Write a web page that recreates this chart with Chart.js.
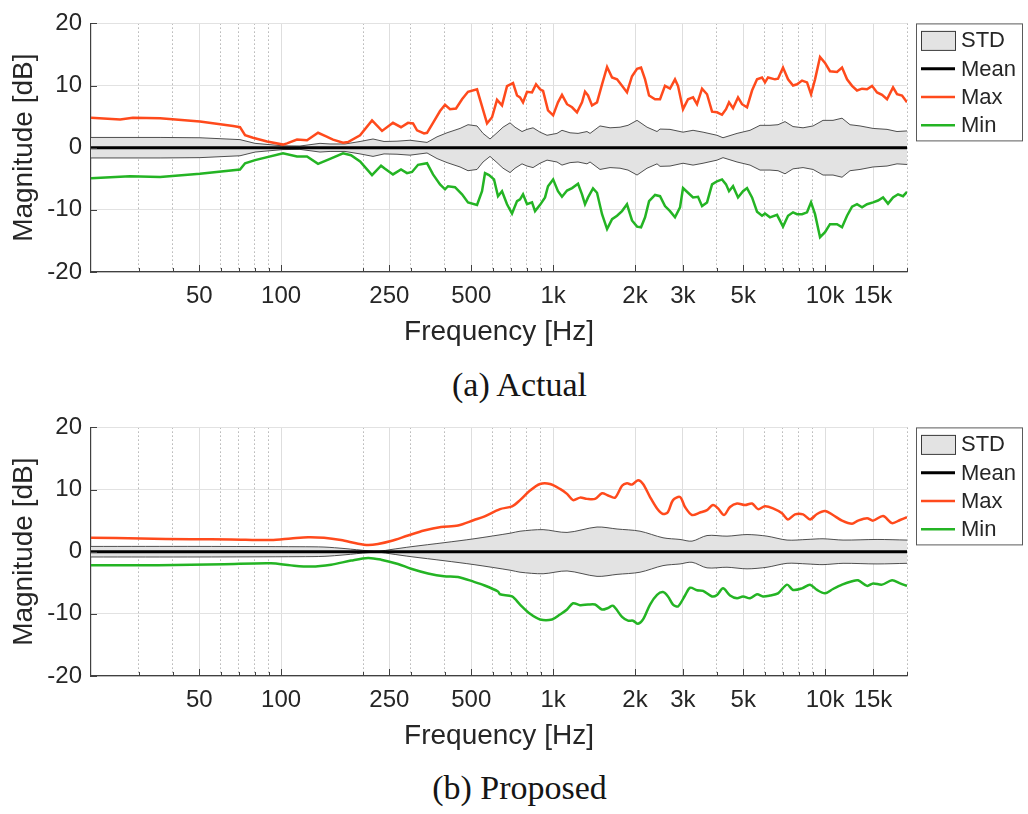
<!DOCTYPE html>
<html>
<head>
<meta charset="utf-8">
<script src="https://cdn.jsdelivr.net/npm/chart.js@4.4.1/dist/chart.umd.min.js"></script>
<style>
  body { margin: 0; background: #fff; width: 1028px; height: 814px; position: relative; overflow: hidden; }
  canvas { position: absolute; left: 0; }
  .caption { position: absolute; left: 0; width: 1039px; text-align: center; line-height: 40px;
             font-size: 34px; font-family: "Liberation Serif", "Times New Roman", serif; color: #151515; }
</style>
</head>
<body>
<canvas id="actual" width="1028" height="360" style="top:0"></canvas>
<div class="caption" style="top:365px">(a) Actual</div>
<canvas id="proposed" width="1028" height="360" style="top:404px"></canvas>
<div class="caption" style="top:768px">(b) Proposed</div>
<script>
// frequency axis ticks (Hz); only the named ones get a label
const freqTicks = [30, 40, 50, 60, 70, 80, 90, 100, 200, 250, 300, 400, 500, 600, 700, 800, 900,
  1000, 2000, 3000, 4000, 5000, 6000, 7000, 8000, 9000, 10000, 15000, 20000];
const tickNames = { 50: '50', 100: '100', 250: '250', 500: '500', 1000: '1k', 2000: '2k',
  3000: '3k', 5000: '5k', 10000: '10k', 15000: '15k' };
const dbTicks = [-20, -10, 0, 10, 20];

// (a) measured responses: [frequency Hz, dB]
const actualMax = [[20, 4.8], [25.6, 4.55], [28.5, 4.8], [35.9, 4.75], [50.3, 4.2], [66.6, 3.5], [70.6, 3.3],
  [73.7, 2.0], [78.8, 1.6], [88.8, 1.0], [101.6, 0.5], [105.1, 0.7], [114.4, 1.3], [124.5, 1.2], [136.7, 2.4],
  [145, 1.9], [155.2, 1.3], [168.9, 0.8], [176.2, 0.9], [195.1, 2.0], [215.9, 4.4], [235, 2.7], [257.8, 4.0],
  [275.9, 3.3], [292.7, 4.0], [305.5, 3.9], [316, 2.8], [335.3, 2.3], [343.9, 2.4], [361.8, 4.0], [383.9, 5.9],
  [400.5, 6.9], [417.8, 6.2], [439.5, 6.3], [462.5, 7.8], [486.5, 9.0], [525.1, 9.4], [571.5, 3.9], [596.2, 4.9],
  [621.9, 7.7], [648.8, 6.8], [676.9, 9.9], [712.3, 10.4], [736.8, 8.4], [755.7, 8.1], [775.1, 7.3], [801.8, 9.0],
  [836.5, 8.9], [865.4, 10.2], [895.3, 9.4], [918.4, 9.15], [957.7, 6.0], [1000, 5.2], [1042, 7.3], [1078, 8.5],
  [1125, 7.0], [1174, 6.5], [1224, 5.7], [1277, 7.3], [1310, 9.0], [1344, 8.4], [1390, 6.8], [1450, 7.3],
  [1513, 10.2], [1579, 13.0], [1647, 11.3], [1718, 11.0], [1792, 9.95], [1869, 8.9], [1950, 11.5], [2035, 12.7],
  [2105, 12.9], [2178, 11.0], [2253, 8.4], [2370, 7.8], [2472, 7.8], [2578, 9.95], [2690, 9.5], [2806, 11.0],
  [2878, 9.95], [3003, 6.2], [3133, 7.8], [3269, 8.1], [3381, 7.0], [3528, 9.5], [3680, 8.6], [3840, 5.8],
  [4005, 5.7], [4178, 5.3], [4322, 6.2], [4433, 7.3], [4586, 6.35], [4784, 8.1], [4949, 7.0], [5163, 6.5],
  [5387, 9.2], [5620, 11.0], [5862, 11.3], [6012, 10.5], [6168, 11.3], [6543, 11.0], [6712, 11.1], [7002, 12.9],
  [7306, 11.0], [7621, 10.0], [7885, 10.2], [8225, 10.8], [8580, 10.5], [8876, 8.6], [9182, 11.0], [9579, 14.6],
  [9991, 13.65], [10420, 12.3], [11060, 12.2], [11540, 12.9], [12040, 11.0], [12560, 9.95], [13100, 9.2],
  [13670, 9.5], [14260, 9.4], [14880, 9.95], [15520, 8.9], [16190, 8.5], [16890, 7.8], [17770, 9.7],
  [18380, 8.6], [19180, 8.4], [20000, 7.3]];
const actualMin = [[20, -4.9], [27.8, -4.6], [35.9, -4.7], [50.3, -4.2], [70.6, -3.5], [73.7, -2.5], [80.2, -2.0],
  [101.6, -0.9], [114.4, -1.4], [124.5, -1.4], [136.7, -2.6], [151.3, -1.8], [168.9, -0.9], [180.7, -1.2],
  [195.1, -2.2], [215.9, -4.4], [233, -2.9], [241, -3.4], [257.8, -4.3], [275.9, -3.5], [290.3, -4.1],
  [302.9, -3.9], [318.7, -2.75], [343.9, -2.5], [361.8, -4.3], [383.9, -5.9], [400.5, -6.7], [410.8, -6.2],
  [435.8, -6.35], [462.5, -7.5], [486.5, -8.8], [525.1, -9.2], [547.8, -7.0], [561.8, -4.1], [581.2, -4.4],
  [606.3, -5.1], [627.2, -7.8], [648.8, -7.0], [676.9, -9.1], [706.2, -10.6], [736.8, -8.6], [755.7, -8.3],
  [775.1, -7.5], [801.8, -9.1], [836.5, -8.8], [858.2, -10.2], [895.3, -9.2], [933.8, -8.0], [957.7, -6.2],
  [1000, -5.1], [1042, -7.0], [1078, -7.9], [1125, -6.9], [1174, -6.5], [1235, -5.8], [1277, -7.5], [1310, -9.1],
  [1344, -8.0], [1402, -6.55], [1450, -7.25], [1513, -10.7], [1579, -13.1], [1647, -11.5], [1718, -10.95],
  [1792, -10.2], [1869, -9.1], [1950, -11.7], [2035, -12.7], [2105, -12.8], [2178, -11.2], [2253, -8.6],
  [2370, -7.6], [2472, -7.8], [2578, -9.4], [2690, -10.2], [2806, -11.2], [2928, -9.6], [3003, -6.5],
  [3133, -7.25], [3269, -8.0], [3410, -7.9], [3528, -9.4], [3680, -8.8], [3840, -5.9], [4005, -5.4], [4178, -5.1],
  [4322, -5.9], [4433, -7.0], [4586, -6.2], [4784, -8.0], [4991, -7.0], [5163, -6.5], [5387, -8.0], [5620, -10.3],
  [5862, -10.95], [6012, -10.6], [6270, -11.2], [6655, -10.8], [7002, -12.7], [7306, -10.95], [7621, -10.4],
  [7885, -10.7], [8225, -10.7], [8580, -10.4], [8876, -8.8], [9182, -10.7], [9579, -14.4], [9991, -13.6],
  [10420, -12.3], [11060, -12.3], [11540, -12.8], [12040, -10.95], [12560, -9.5], [13100, -9.1], [13670, -9.6],
  [14260, -9.1], [15010, -8.8], [15650, -8.5], [16330, -8.0], [17030, -9.0], [17770, -8.0], [18540, -7.5],
  [19340, -7.8], [20000, -7.1]];
const actualStd = [[20, 1.65], [35.9, 1.65], [50.3, 1.6], [70.6, 1.3], [80.2, 0.7], [101.6, 0.3], [117.3, 0.27],
  [139, 0.7], [151.3, 0.6], [171.8, 0.6], [195.1, 1.0], [217.7, 1.4], [239, 1.0], [266.7, 1.05], [297.8, 1.2],
  [343.9, 0.85], [374.3, 1.75], [407.3, 2.4], [454.7, 3.1], [486.5, 3.7], [525.1, 3.5], [552.5, 2.3], [586.1, 1.4],
  [621.9, 2.4], [654.4, 3.3], [694.3, 4.0], [724.4, 3.3], [768.7, 2.6], [801.8, 2.95], [843.7, 3.2], [895.3, 2.5],
  [949.8, 2.0], [1033, 2.3], [1078, 2.8], [1154, 2.4], [1235, 2.3], [1332, 2.6], [1367, 2.3], [1487, 3.5],
  [1619, 3.2], [1762, 3.3], [1885, 3.6], [2035, 4.4], [2215, 3.3], [2410, 2.6], [2472, 3.0], [2690, 2.95],
  [3003, 2.5], [3269, 2.8], [3558, 2.5], [4005, 2.0], [4213, 1.6], [4744, 2.3], [5296, 2.8], [5764, 3.6],
  [6270, 3.6], [6712, 3.7], [7122, 4.2], [7621, 3.4], [8295, 3.2], [9027, 3.5], [9824, 4.4], [10690, 4.4],
  [11540, 4.75], [12350, 3.7], [13440, 3.5], [15010, 3.1], [16890, 2.95], [18380, 2.6], [20000, 2.7]];
const actualMean = [[20, 0], [20000, 0]];

// (b) proposed responses: [frequency Hz, dB]
const proposedMax = [[20, 2.24], [30.5, 2.13], [46.6, 2.0], [65.4, 1.97], [91.8, 1.87], [108.7, 2.13],
  [125.6, 2.34], [143.8, 2.24], [166, 1.87], [191.8, 1.29], [208.7, 1.08], [227.1, 1.24], [253.5, 1.71],
  [292.7, 2.6], [335.3, 3.4], [387.2, 3.97], [447.1, 4.23], [512, 5.1], [557.2, 5.65], [638, 6.85], [706.2, 7.3],
  [755.7, 8.3], [822.5, 9.85], [895.3, 10.9], [974.1, 10.9], [1060, 10.1], [1125, 9.3], [1184, 8.3], [1256, 8.7],
  [1332, 8.5], [1426, 8.5], [1513, 9.4], [1592, 9.05], [1689, 8.7], [1792, 10.6], [1869, 11.0], [1950, 10.8],
  [2052, 11.5], [2141, 10.9], [2272, 8.8], [2410, 6.96], [2535, 6.07], [2644, 6.4], [2759, 8.3], [2928, 8.8],
  [3054, 7.2], [3241, 5.9], [3469, 6.3], [3680, 6.7], [3870, 7.5], [4039, 6.96], [4249, 5.9], [4471, 7.2],
  [4744, 7.75], [5076, 7.5], [5387, 7.75], [5667, 6.85], [6012, 7.3], [6432, 6.96], [6943, 6.17], [7306, 5.2],
  [7751, 6.0], [8295, 6.0], [8801, 5.2], [9338, 6.07], [9991, 6.55], [10690, 5.9], [11540, 5.0], [12560, 4.5],
  [13210, 5.0], [14260, 5.4], [15010, 5.0], [16330, 5.75], [17620, 4.6], [18860, 5.1], [20000, 5.55]];
const proposedMin = [[20, -2.2], [35.3, -2.17], [61.7, -2.0], [91.8, -1.86], [108.7, -2.2], [128.8, -2.4],
  [152.6, -2.1], [180.7, -1.43], [208.7, -1.0], [233, -1.28], [269, -1.97], [300.4, -2.75], [346.8, -3.5],
  [397.1, -3.96], [447.1, -4.06], [512, -4.85], [557.2, -5.4], [627.2, -6.4], [638, -6.85], [706.2, -7.2],
  [755.7, -8.5], [822.5, -10.0], [895.3, -10.9], [990.7, -10.9], [1060, -10.1], [1125, -9.3], [1184, -8.3],
  [1256, -8.6], [1344, -8.5], [1426, -8.5], [1513, -9.3], [1592, -9.05], [1661, -8.7], [1792, -10.5],
  [1885, -11.1], [1966, -11.1], [2052, -11.6], [2141, -10.9], [2272, -8.5], [2410, -6.95], [2535, -6.5],
  [2644, -7.2], [2759, -8.5], [2878, -8.8], [3054, -7.05], [3187, -5.8], [3381, -6.2], [3558, -6.3], [3840, -7.2],
  [4005, -6.95], [4213, -5.9], [4471, -7.05], [4744, -7.5], [4991, -7.2], [5296, -7.5], [5620, -6.85],
  [5911, -7.2], [6270, -7.05], [6712, -6.7], [7244, -5.3], [7621, -6.15], [8225, -5.9], [8801, -5.3],
  [9338, -6.15], [9991, -6.7], [10690, -6.0], [11540, -5.3], [12560, -4.75], [13210, -4.6], [14260, -5.5],
  [15010, -5.1], [16190, -5.3], [17620, -4.6], [18860, -5.1], [20000, -5.5]];
const proposedStd = [[20, 0.85], [50.3, 0.85], [117.3, 0.8], [143.8, 0.75], [171.8, 0.5], [208.7, 0.15],
  [231, 0.1], [253.5, 0.35], [300.4, 0.8], [397.1, 1.45], [512, 2.08], [700.2, 3.0], [755.7, 3.3], [918.4, 3.55],
  [1125, 3.1], [1450, 3.97], [1718, 3.65], [2087, 3.3], [2535, 2.24], [2928, 1.97], [3241, 1.7], [3680, 2.6],
  [4358, 2.5], [5163, 2.76], [6115, 2.5], [7244, 1.87], [8580, 1.97], [9824, 2.08], [11640, 1.87], [15520, 1.97],
  [20000, 1.87]];
const proposedMean = [[20, 0], [20000, 0]];

const AXIS = '#404040';
const TEXT = '#262626';
Chart.defaults.font.family = '"Liberation Sans", Arial, Helvetica, sans-serif';
Chart.defaults.color = TEXT;

const isNamed = (v) => tickNames[v] !== undefined;

// MATLAB-style tick marks pointing into the plot
const innerTicks = {
  id: 'innerTicks',
  afterDraw(chart) {
    const { ctx, chartArea, scales } = chart;
    ctx.save();
    ctx.strokeStyle = AXIS;
    ctx.lineWidth = 1;
    ctx.beginPath();
    scales.x.ticks.forEach((t) => {
      const px = Math.round(scales.x.getPixelForValue(t.value)) + 0.5;
      const len = isNamed(t.value) ? 7 : 4;
      ctx.moveTo(px, chartArea.bottom);
      ctx.lineTo(px, chartArea.bottom - len);
    });
    scales.y.ticks.forEach((t) => {
      const py = Math.round(scales.y.getPixelForValue(t.value)) + 0.5;
      ctx.moveTo(chartArea.left, py);
      ctx.lineTo(chartArea.left + 6, py);
    });
    ctx.stroke();
    ctx.restore();
  }
};

// boxed legend to the right of the plot
const boxLegend = {
  id: 'boxLegend',
  afterDraw(chart) {
    const { ctx, chartArea } = chart;
    const x0 = chartArea.right + 9, y0 = chartArea.top, w = 106, h = 117, rowH = 28.3;
    ctx.save();
    ctx.fillStyle = '#fff';
    ctx.fillRect(x0, y0, w, h);
    ctx.strokeStyle = '#5a5a5a';
    ctx.lineWidth = 1;
    ctx.strokeRect(x0 + 0.5, y0 + 0.5, w, h);
    ctx.font = '22px "Liberation Sans", Arial, sans-serif';
    ctx.textBaseline = 'middle';
    const items = chart.data.datasets.filter((d) => d.label);
    items.forEach((ds, i) => {
      const cy = y0 + 17 + i * rowH;
      if (ds.fill) {
        ctx.fillStyle = ds.backgroundColor;
        ctx.fillRect(x0 + 5, cy - 9.5, 34, 19);
        ctx.strokeStyle = '#3a3a3a';
        ctx.strokeRect(x0 + 5.5, cy - 9, 34, 19);
      } else {
        ctx.strokeStyle = ds.borderColor;
        ctx.lineWidth = ds.borderWidth;
        ctx.beginPath();
        ctx.moveTo(x0 + 5, cy);
        ctx.lineTo(x0 + 39, cy);
        ctx.stroke();
        ctx.lineWidth = 1;
      }
      ctx.fillStyle = TEXT;
      ctx.fillText(ds.label, x0 + 45, cy + 1);
    });
    ctx.restore();
  }
};

function xy(pts) {
  return pts.map(([f, v]) => ({ x: f, y: v }));
}

function drawPanel(id, maxPts, minPts, stdPts, meanPts, tension) {
  new Chart(document.getElementById(id), {
    type: 'line',
    data: {
      datasets: [
        { label: 'STD', data: stdPts.map(([f, s]) => ({ x: f, y: s })), borderColor: '#3c3c3c', borderWidth: 0.9,
          backgroundColor: '#e3e3e3', fill: '+1', order: 3, tension },
        { data: stdPts.map(([f, s]) => ({ x: f, y: -s })), borderColor: '#3c3c3c', borderWidth: 0.9,
          fill: false, order: 3, tension },
        { label: 'Mean', data: xy(meanPts), borderColor: '#000', borderWidth: 3, fill: false, order: 2 },
        { label: 'Max', data: xy(maxPts), borderColor: '#ff4a1c', borderWidth: 2.5, fill: false, order: 1, tension },
        { label: 'Min', data: xy(minPts), borderColor: '#24b424', borderWidth: 2.5, fill: false, order: 1, tension }
      ]
    },
    options: {
      responsive: false,
      animation: false,
      layout: { padding: { top: 20, right: 121, bottom: 0, left: 0 } },
      elements: { point: { radius: 0 } },
      plugins: {
        legend: { display: false },
        tooltip: { enabled: false },
        filler: { drawTime: 'beforeDatasetsDraw' }
      },
      scales: {
        x: {
          type: 'logarithmic',
          min: 20,
          max: 20000,
          afterBuildTicks: (scale) => { scale.ticks = freqTicks.map((v) => ({ value: v })); },
          afterFit: (scale) => { scale.height = 88; },
          ticks: {
            autoSkip: false, maxRotation: 0, minRotation: 0, padding: 10,
            font: { size: 24 }, color: TEXT,
            callback: (v) => tickNames[v] || ''
          },
          grid: {
            drawTicks: false,
            lineWidth: 1,
            color: (c) => (c.tick && !isNamed(c.tick.value) ? '#b4b4b4' : '#dedede')
          },
          border: {
            color: AXIS, width: 1.2,
            dash: (c) => (c.tick && !isNamed(c.tick.value) ? [1.5, 2.5] : [])
          },
          title: { display: true, text: 'Frequency [Hz]', font: { size: 28 }, color: TEXT,
            padding: { top: 0, bottom: 11 } }
        },
        y: {
          min: -20,
          max: 20,
          afterBuildTicks: (scale) => { scale.ticks = dbTicks.map((v) => ({ value: v })); },
          afterFit: (scale) => { scale.width = 91; },
          ticks: { padding: 9, font: { size: 24 }, color: TEXT },
          grid: { drawTicks: false, color: '#e2e2e2', lineWidth: 1 },
          border: { color: AXIS, width: 1.2 },
          title: { display: true, text: 'Magnitude [dB]', font: { size: 28 }, color: TEXT,
            padding: { top: 7, bottom: 0 } }
        }
      }
    },
    plugins: [innerTicks, boxLegend]
  });
}

drawPanel('actual', actualMax, actualMin, actualStd, actualMean, 0);
drawPanel('proposed', proposedMax, proposedMin, proposedStd, proposedMean, 0.3);
</script>
</body>
</html>
